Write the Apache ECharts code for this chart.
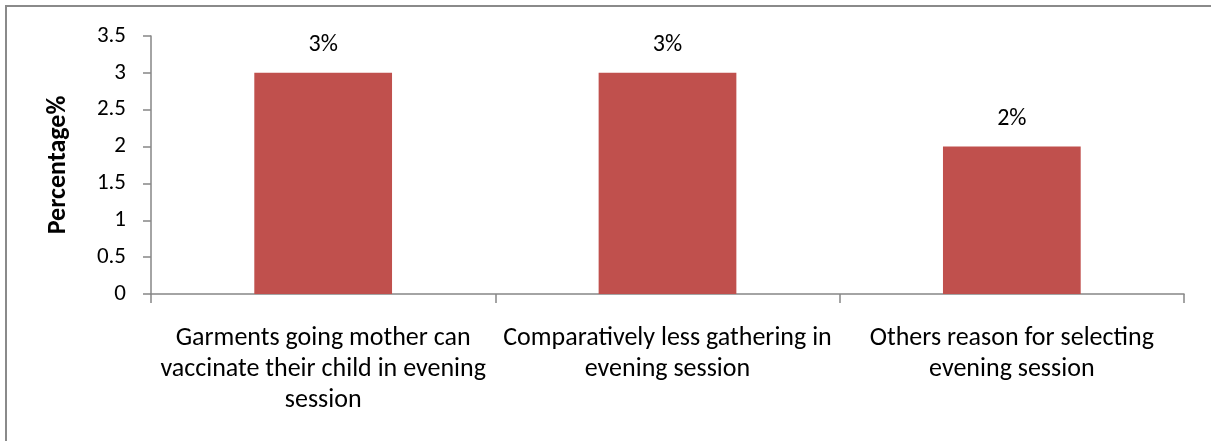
<!DOCTYPE html>
<html>
<head>
<meta charset="utf-8">
<script src="https://cdn.jsdelivr.net/npm/echarts@6/dist/echarts.min.js"></script>
<style>
  html, body { margin: 0; padding: 0; background: #fff; }
  #chart { width: 1211px; height: 441px; }
</style>
</head>
<body>
<div id="chart"></div>
<script>
// Reasons given for choosing the evening vaccination session
const categories = [
  'Garments going mother can\nvaccinate their child in evening\nsession',
  'Comparatively less gathering in\nevening session',
  'Others reason for selecting\nevening session'
];
const percentages = [3, 3, 2];
const valueLabels = ['3%', '3%', '2%'];
const yAxisTitle = 'Percentage%';

const FONT = 'Carlito, Calibri, Lato, sans-serif';
const AXIS_GREY = '#868686';

const chart = echarts.init(document.getElementById('chart'), null, { renderer: 'canvas' });

chart.setOption({
  animation: false,
  backgroundColor: '#ffffff',
  graphic: [{
    type: 'rect',
    shape: { x: 6, y: 6, width: 1400, height: 800 },
    style: { fill: 'none', stroke: '#8a8a8a', lineWidth: 2 },
    silent: true,
    z: -1
  }],
  grid: { left: 151, right: 27, top: 36, bottom: 147, containLabel: false },
  xAxis: {
    type: 'category',
    data: categories,
    boundaryGap: true,
    axisLine: { lineStyle: { color: AXIS_GREY, width: 1.5 } },
    axisTick: { show: true, length: 9, alignWithLabel: false, lineStyle: { color: AXIS_GREY, width: 1.5 } },
    axisLabel: {
      interval: 0,
      margin: 29,
      color: '#000',
      fontFamily: FONT,
      fontSize: 26,
      lineHeight: 31,
      align: 'center'
    },
    splitLine: { show: false }
  },
  yAxis: {
    type: 'value',
    min: 0,
    max: 3.5,
    interval: 0.5,
    name: yAxisTitle,
    nameLocation: 'middle',
    nameGap: 80,
    nameRotate: 90,
    nameTextStyle: { color: '#000', fontFamily: FONT, fontSize: 26, fontWeight: 'bold' },
    axisLine: { show: true, lineStyle: { color: AXIS_GREY, width: 1.5 } },
    axisTick: { show: true, length: 8, lineStyle: { color: AXIS_GREY, width: 1.5 } },
    axisLabel: { color: '#000', fontFamily: FONT, fontSize: 23, margin: 25 },
    splitLine: { show: false }
  },
  series: [{
    type: 'bar',
    data: percentages,
    barWidth: '40%',
    itemStyle: { color: '#C0504D' },
    label: {
      show: true,
      position: 'top',
      distance: 16,
      color: '#000',
      fontFamily: FONT,
      fontSize: 24,
      formatter: (p) => valueLabels[p.dataIndex]
    }
  }]
});
</script>
</body>
</html>
